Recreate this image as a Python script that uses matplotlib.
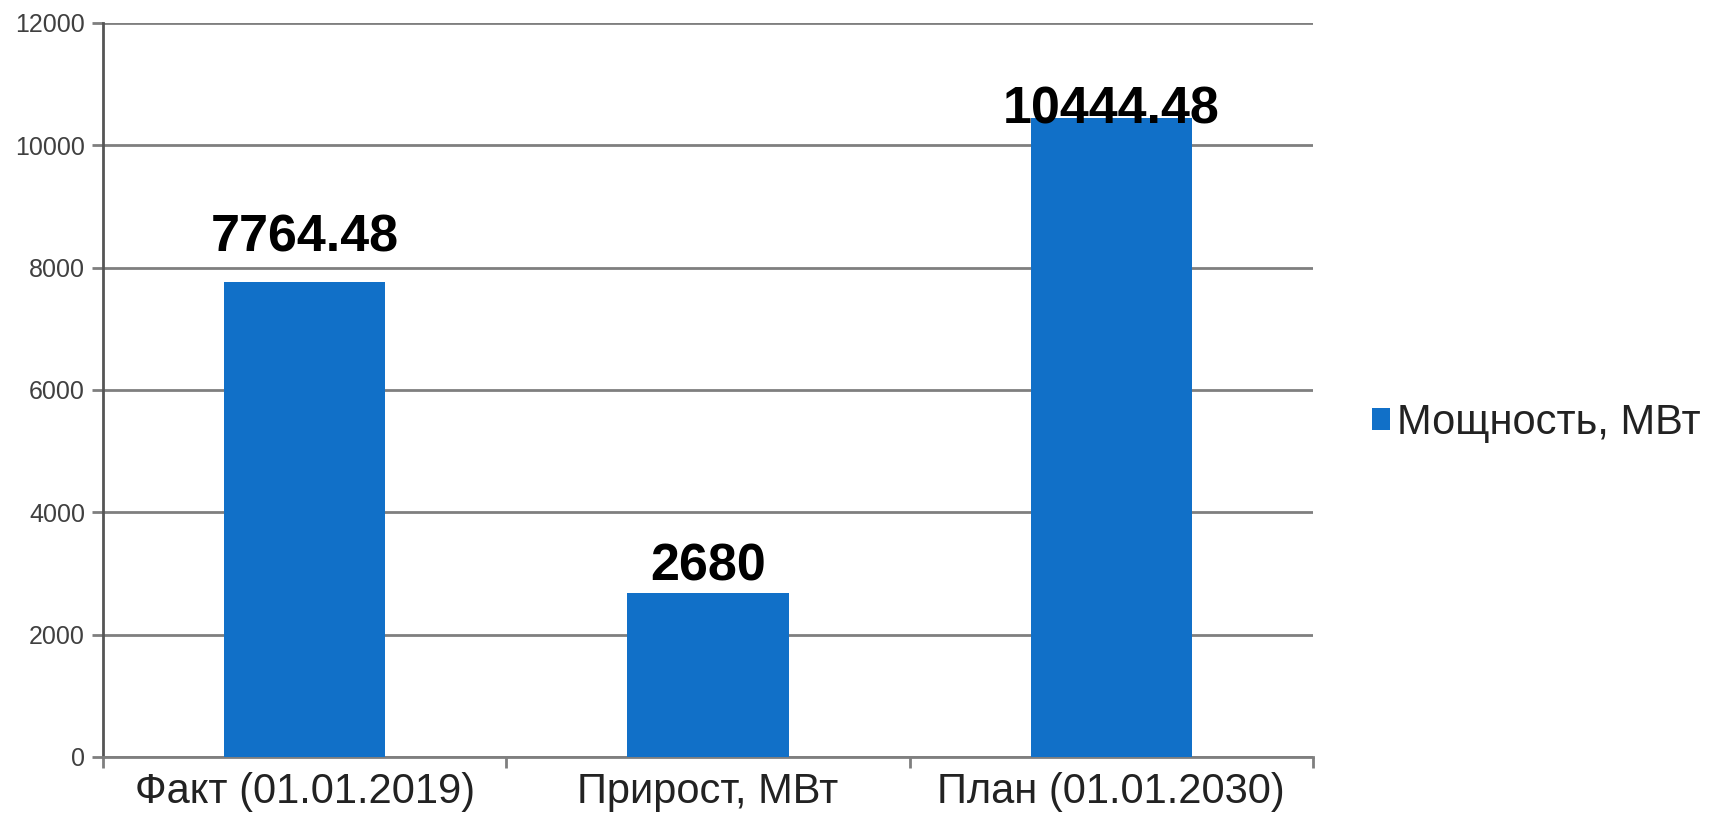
import matplotlib
matplotlib.use("Agg")
import matplotlib.pyplot as plt

categories = ["Факт (01.01.2019)", "Прирост, МВт", "План (01.01.2030)"]
values = [7764.48, 2680, 10444.48]
value_labels = ["7764.48", "2680", "10444.48"]
series_name = "Мощность, МВт"
yticks = [0, 2000, 4000, 6000, 8000, 10000, 12000]

plt.rcParams['font.family'] = ['Liberation Sans', 'DejaVu Sans']

DPI = 100
fig = plt.figure(figsize=(17.12, 8.18), dpi=DPI)
ax = fig.add_axes([0.0602, 0.0746, 0.7067, 0.8973])

px2pt = 72.0 / DPI
bar_color = "#1170C8"
grid_color = "#7f7f7f"
x = list(range(len(categories)))
bars = ax.bar(x, values, width=0.4, color=bar_color, label=series_name, zorder=3)

# baseline offsets of value labels above bar tops (pixels), as placed in the source
label_offsets_px = [31, 13, -5]
for xi, v, lab, off in zip(x, values, value_labels, label_offsets_px):
    ax.annotate(lab, xy=(xi, v), xytext=(0, off * px2pt), textcoords="offset points",
                ha="center", va="baseline", fontsize=37.5, fontweight="bold",
                color="black", zorder=4, annotation_clip=False)

ax.set_xlim(-0.5, 2.5)
ax.set_ylim(0, 12000)
ax.set_yticks(yticks)
ax.set_yticklabels([str(t) for t in yticks], fontsize=18, color="#404040")
ax.yaxis.grid(True, color=grid_color, linewidth=2, zorder=0)
ax.set_axisbelow(True)

ax.set_xticks(x)
ax.set_xticklabels(categories, fontsize=30, color="#222222")
ax.tick_params(axis="x", length=0, pad=15 * px2pt)
ax.set_xticks([-0.5, 0.5, 1.5, 2.5], minor=True)
ax.tick_params(axis="x", which="minor", length=11 * px2pt, width=2, color=grid_color, direction="out")
ax.tick_params(axis="y", length=11 * px2pt, width=2, color=grid_color, direction="out", pad=7 * px2pt)

for s in ["top", "right"]:
    ax.spines[s].set_visible(False)
ax.spines["left"].set_color("#555555")
ax.spines["left"].set_linewidth(2)
ax.spines["bottom"].set_color(grid_color)
ax.spines["bottom"].set_linewidth(2)

leg = fig.legend(handles=[bars], labels=[series_name], loc="center left",
                 bbox_to_anchor=(1372 / 1712, (818 - 423) / 818), frameon=False, fontsize=30,
                 handlelength=0.43, handleheight=0.43, handletextpad=0.17,
                 borderpad=0, borderaxespad=0, labelcolor="#222222")

fig.savefig("out.png", dpi=DPI, facecolor="white")
